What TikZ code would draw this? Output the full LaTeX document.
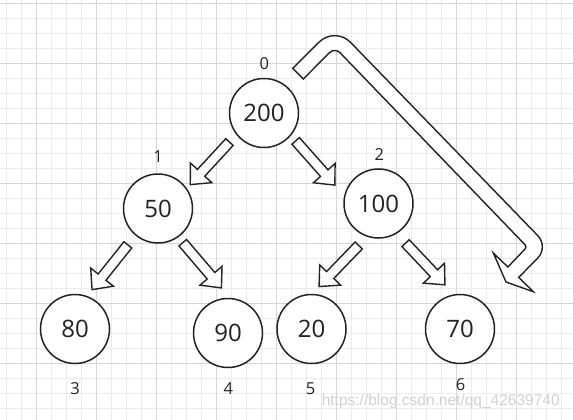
\documentclass[tikz,border=0pt]{standalone}
\usepackage{fontspec}
\setmainfont{Open Sans}
\newfontfamily\markfont{Liberation Sans}
\usetikzlibrary{calc}
\definecolor{cLine}{RGB}{34,34,34}
\definecolor{cGridA}{RGB}{236,236,236}
\definecolor{cGridB}{RGB}{214,214,214}
\definecolor{cMark}{RGB}{208,208,208}

\begin{document}
\begin{tikzpicture}[x=1pt,y=-1pt,
   key/.style={circle,draw=cLine,line width=1.5pt,fill=white,minimum size=69pt,
     inner sep=0pt,text=cLine,font=\fontsize{24}{24}\selectfont},
   slot/.style={text=cLine,inner sep=0pt,font=\fontsize{16.5}{16.5}\selectfont},
   hollow/.style 2 args={draw=cLine,line width=1.4pt,fill=white,line join=miter,
     to path={let \p1=($(\tikztostart)!#1!(\tikztotarget)$),
                  \p2=($(\tikztotarget)!#2!(\tikztostart)$),
                  \p3=($(\p2)!16pt!(\p1)$) in
       ($(\p1)!5pt!90:(\p2)$) -- ($(\p3)!5pt!-90:(\p1)$) -- ($(\p3)!14.5pt!-90:(\p1)$)
       -- (\p2) -- ($(\p3)!14.5pt!90:(\p1)$) -- ($(\p3)!5pt!90:(\p1)$)
       -- ($(\p1)!5pt!-90:(\p2)$) -- cycle}}]
 \useasboundingbox (0,0) rectangle (573,420);
 % grid paper
 \foreach \x in {6.7,21.7,...,573} \draw[cGridA,line width=0.8pt] (\x,0) -- (\x,420);
 \foreach \y in {3.3,18.3,...,420} \draw[cGridA,line width=0.8pt] (0,\y) -- (573,\y);
 \foreach \x in {36.7,96.7,...,573} \draw[cGridB,line width=0.8pt] (\x,0) -- (\x,420);
 \foreach \y in {3.3,63.3,...,420} \draw[cGridB,line width=0.8pt] (0,\y) -- (573,\y);
 % heap keys
 \foreach \v/\x/\y in {200/264/113,50/158/208.5,100/378.5/203.5,80/75/329,
                       90/228/333,20/311.5/329,70/460/329}
   \node[key] (n\v) at (\x,\y) {\v};
 % array positions
 \foreach \i/\x/\y in {0/264.3/63.3,1/158/156.5,2/379.3/155,3/75/388.3,
                       4/228.4/389,5/310.7/388.3,6/460.5/384.3}
   \node[slot] (p\i) at (\x,\y) {\i};
 % parent to child
 \draw[hollow={10pt}{5pt}] (n200.-142) to (n50.35);
 \draw[hollow={7pt}{14pt}] (n200.-40) to (n100.167);
 \draw[hollow={12pt}{8pt}] (n50.-130) to (n80.70);
 \draw[hollow={7pt}{13pt}] (n50.-55) to (n90.87);
 \draw[hollow={12pt}{10pt}] (n100.-109) to (n20.89);
 \draw[hollow={13pt}{13pt}] (n100.-59) to (n70.100);
 % root swapped with last leaf
 \coordinate (to) at (292.7,68.4);
 \coordinate (ti) at (303.3,79);
 \coordinate (ao) at (335,26.3);
 \coordinate (ai) at (334.8,47.3);
 \coordinate (bo) at (548.7,246.9);
 \coordinate (bi) at (527.1,246.9);
 \coordinate (ho) at (518.7,277.4);
 \coordinate (hi) at (507.9,267);
 \coordinate (ha) at (493.3,253);
 \coordinate (hb) at (533.3,291.7);
 \coordinate (hp) at (506,282);
 \draw[cLine,line width=1.4pt,fill=white,line join=miter]
   (to) -- ($(ao)!22.5pt!(to)$) .. controls ($(ao)!10pt!(to)$) and ($(ao)!10pt!(bo)$) .. ($(ao)!22.5pt!(bo)$)
   -- ($(bo)!15.5pt!(ao)$) .. controls ($(bo)!7pt!(ao)$) and ($(bo)!7pt!(ho)$) .. ($(bo)!15.5pt!(ho)$)
   -- (ho) -- (hb) -- (hp) -- (ha) -- (hi)
   -- ($(bi)!3pt!(hi)$) .. controls ($(bi)!1.3pt!(hi)$) and ($(bi)!1.3pt!(ai)$) .. ($(bi)!3pt!(ai)$)
   -- ($(ai)!7.5pt!(bi)$) .. controls ($(ai)!3.4pt!(bi)$) and ($(ai)!3.4pt!(ti)$) .. ($(ai)!7.5pt!(ti)$)
   -- (ti) -- cycle;
 % watermark
 \node[anchor=base west,text=cMark,inner sep=0pt,font=\markfont\fontsize{15.5}{15.5}\selectfont]
   (mark) at (321.6,405) {https://blog.csdn.net/qq\_42639740};
\end{tikzpicture}
\end{document}
